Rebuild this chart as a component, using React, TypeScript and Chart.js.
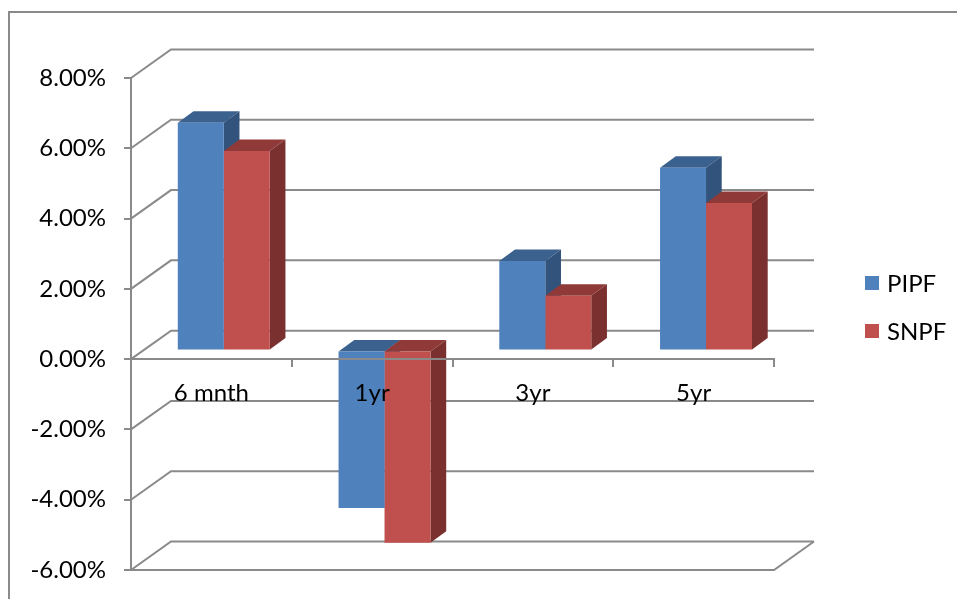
import React, { useEffect, useRef } from 'react';
import { Chart, registerables } from 'chart.js';

Chart.register(...registerables);

// ---- data ----
const categories = ['6 mnth', '1yr', '3yr', '5yr'];
const pipfValues = [0.0648, -0.0448, 0.0255, 0.052];
const snpfValues = [0.0568, -0.0547, 0.0156, 0.042];
const seriesNames = ['PIPF', 'SNPF'];
const yMin = -0.06;
const yMax = 0.08;
const yStep = 0.02;

// ---- styles ----
const FRONT = ['#4F81BD', '#C0504D'];
const TOP = ['#3B618F', '#8F3A38'];
const SIDE = ['#32537C', '#7A302E'];
const GRID = '#8a8a8a';
const FONT = 'Lato';
const WALL_DX = 40;
const WALL_DY = -28.5;
const PLANE_DX = 12.4;
const PLANE_DY = -8.6;
const BAR_DX = 15.7;
const BAR_DY = -11.5;

function poly(ctx: CanvasRenderingContext2D, pts: number[][], color: string) {
  ctx.beginPath();
  ctx.moveTo(pts[0][0], pts[0][1]);
  for (let i = 1; i < pts.length; i++) ctx.lineTo(pts[i][0], pts[i][1]);
  ctx.closePath();
  ctx.fillStyle = color;
  ctx.fill();
}

const threeD = {
  id: 'threeD',
  beforeDraw(chart: any) {
    const ctx = chart.ctx as CanvasRenderingContext2D;
    ctx.save();
    ctx.strokeStyle = GRID;
    ctx.lineWidth = 2;
    ctx.strokeRect(9, 12, chart.width + 40, chart.height + 40);
    ctx.restore();
  },
  beforeDatasetsDraw(chart: any) {
    const ctx = chart.ctx as CanvasRenderingContext2D;
    const a = chart.chartArea;
    const ys = chart.scales.y;
    ctx.save();
    ctx.strokeStyle = GRID;
    ctx.lineWidth = 2;
    ctx.lineJoin = 'miter';
    ys.ticks.forEach((t: any) => {
      const fy = ys.getPixelForValue(t.value);
      ctx.beginPath();
      ctx.moveTo(a.left, fy);
      ctx.lineTo(a.left + WALL_DX, fy + WALL_DY);
      ctx.lineTo(a.right + WALL_DX, fy + WALL_DY);
      ctx.stroke();
    });
    ctx.beginPath();
    ctx.moveTo(a.left, a.bottom);
    ctx.lineTo(a.right, a.bottom);
    ctx.lineTo(a.right + WALL_DX, a.bottom + WALL_DY);
    ctx.stroke();

    ctx.translate(PLANE_DX, PLANE_DY);
    chart.data.datasets.forEach((_ds: any, di: number) => {
      const meta = chart.getDatasetMeta(di);
      meta.data.forEach((bar: any) => {
        const { x, y, base, width } = bar.getProps(['x', 'y', 'base', 'width'], true);
        const l = x - width / 2;
        const r = x + width / 2;
        const t = Math.min(y, base);
        const b = Math.max(y, base);
        poly(ctx, [[l, t], [l + BAR_DX, t + BAR_DY], [r + BAR_DX, t + BAR_DY], [r, t]], TOP[di]);
        poly(ctx, [[r, t], [r + BAR_DX, t + BAR_DY], [r + BAR_DX, b + BAR_DY], [r, b]], SIDE[di]);
      });
    });
    ctx.restore();
    ctx.save();
    ctx.translate(PLANE_DX, PLANE_DY);
  },
  afterDatasetsDraw(chart: any) {
    chart.ctx.restore();
  },
  afterDraw(chart: any) {
    const ctx = chart.ctx as CanvasRenderingContext2D;
    ctx.save();
    ctx.font = `24px ${FONT}`;
    ctx.textBaseline = 'middle';
    ctx.textAlign = 'left';
    chart.data.datasets.forEach((ds: any, i: number) => {
      const top = 276 + i * 48;
      ctx.fillStyle = ds.backgroundColor;
      ctx.fillRect(865, top, 14, 14);
      ctx.fillStyle = '#000';
      ctx.fillText(ds.label, 887, top + 8);
    });
    ctx.restore();
  },
};

export default function App() {
  const ref = useRef<HTMLCanvasElement>(null);
  useEffect(() => {
    if (!ref.current) return;
    const chart = new Chart(ref.current, {
      type: 'bar',
      data: {
        labels: categories,
        datasets: [
          { label: seriesNames[0], data: pipfValues, backgroundColor: FRONT[0], borderWidth: 0, clip: false as any },
          { label: seriesNames[1], data: snpfValues, backgroundColor: FRONT[1], borderWidth: 0, clip: false as any },
        ],
      },
      options: {
        responsive: false,
        animation: false,
        datasets: { bar: { categoryPercentage: 0.572, barPercentage: 1 } },
        layout: { padding: { left: 0, top: 78, right: 183, bottom: 29 } },
        plugins: { legend: { display: false }, tooltip: { enabled: false } },
        scales: {
          x: {
            position: { y: 0 } as any,
            offset: true,
            afterFit: (s: any) => { s.height = 0; s.paddingLeft = 0; s.paddingRight = 0; },
            grid: { drawOnChartArea: false, drawTicks: true, tickLength: 7, color: GRID, lineWidth: 2, offset: true, z: 1 },
            border: { display: true, color: GRID, width: 2, z: 1 },
            ticks: { font: { family: FONT, size: 24 }, color: '#000', padding: 13, maxRotation: 0, autoSkip: false, z: 1 },
          },
          y: {
            min: yMin,
            max: yMax,
            afterFit: (s: any) => { s.width = 131; s.paddingTop = 0; s.paddingBottom = 0; },
            grid: { drawOnChartArea: false, drawTicks: true, tickLength: 7, color: GRID, lineWidth: 2 },
            border: { display: true, color: GRID, width: 2 },
            ticks: {
              stepSize: yStep,
              padding: 18,
              color: '#000',
              font: { family: FONT, size: 24 },
              callback: (v: any) => (Number(v) * 100).toFixed(2) + '%',
            },
          },
        },
      },
      plugins: [threeD],
    });
    return () => chart.destroy();
  }, []);
  return (
    <div style={{ position: 'absolute', left: 0, top: 0, width: 957, height: 599, background: '#fff' }}>
      <canvas ref={ref} width={957} height={599} style={{ display: 'block' }} />
    </div>
  );
}
